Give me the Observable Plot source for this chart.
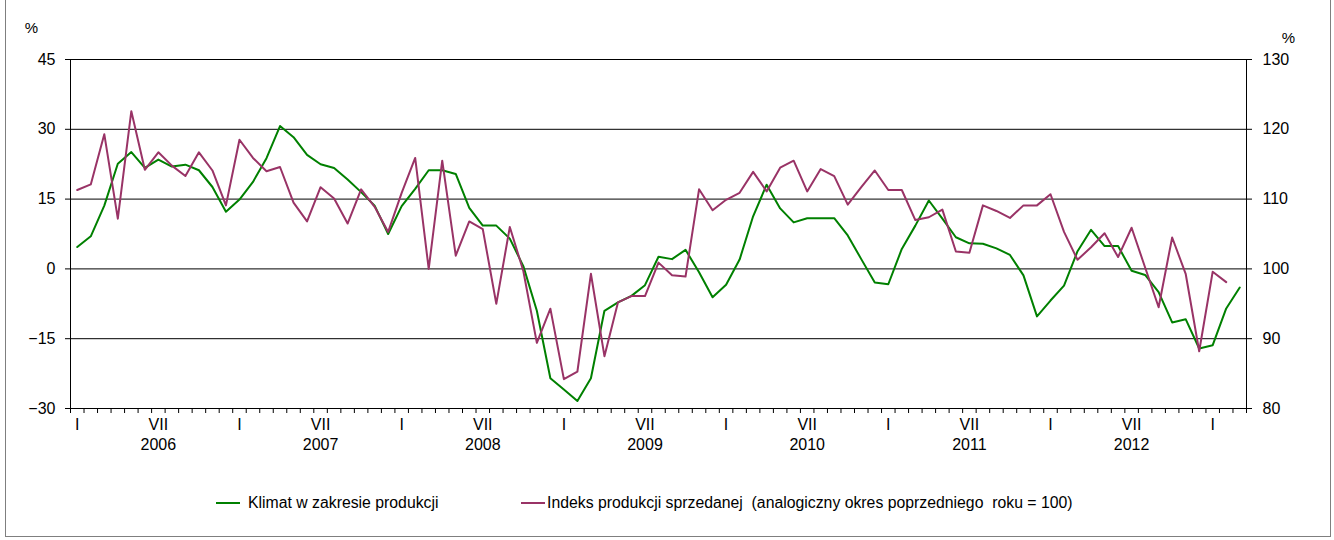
<!DOCTYPE html>
<html><head><meta charset="utf-8">
<script src="https://cdn.jsdelivr.net/npm/d3@7"></script>
<script src="https://cdn.jsdelivr.net/npm/@observablehq/plot@0.6"></script>
<style>
body{margin:0;background:#fff;font-family:"Liberation Sans",Arial,sans-serif;}
#wrap{position:relative;width:1334px;height:540px;overflow:hidden;background:#fff;}
#frame{position:absolute;left:5px;top:-2px;width:1326px;height:539px;border:1px solid #7f7f7f;box-sizing:border-box;pointer-events:none;}
#chart{position:absolute;left:0;top:0;}
#legend{position:absolute;left:0;top:493px;width:1334px;height:20px;font-size:15.8px;color:#000;}
.item{position:absolute;top:0;display:flex;align-items:center;height:20px;white-space:pre;}
.sw{display:inline-block;width:24px;height:2px;margin-right:8px;}
</style></head><body>
<div id="wrap"><div id="chart"></div><div id="legend"></div><div id="frame"></div></div>
<script>
const years = [2006, 2007, 2008, 2009, 2010, 2011, 2012];
const monthLabels = ["I","II","III","IV","V","VI","VII","VIII","IX","X","XI","XII"];
const leftTicks = [-30, -15, 0, 15, 30, 45];
const seriesNames = ["Klimat w zakresie produkcji", "Indeks produkcji sprzedanej  (analogiczny okres poprzedniego  roku = 100)"];
// Klimat (left axis, %), Jan 2006 - Mar 2013
const klimat = [
  4.7, 7.0, 13.6, 22.6, 25.1, 21.7, 23.5, 22.0, 22.4, 21.2, 17.6, 12.3,
  14.9, 18.7, 23.8, 30.7, 28.3, 24.5, 22.5, 21.7, 19.2, 16.5, 13.6, 7.5,
  13.5, 17.2, 21.2, 21.2, 20.4, 13.1, 9.3, 9.3, 6.5, 0.6, -9.0, -23.5,
  -25.9, -28.4, -23.5, -9.0, -7.2, -5.8, -3.5, 2.6, 2.1, 4.1, -0.7, -6.1,
  -3.4, 2.0, 11.3, 18.1, 13.0, 10.0, 10.9, 10.9, 10.9, 7.2, 2.1, -2.9,
  -3.3, 4.3, 9.3, 14.7, 10.8, 6.8, 5.5, 5.4, 4.4, 3.0, -1.4, -10.2,
  -6.8, -3.6, 3.8, 8.4, 4.9, 4.9, -0.4, -1.3, -5.0, -11.5, -10.8, -17.1,
  -16.4, -8.5, -4.0
];
// Indeks (right axis), Jan 2006 - Feb 2013
const indeks = [
  111.3, 112.1, 119.3, 107.2, 122.6, 114.2, 116.7, 114.8, 113.3, 116.7, 114.1, 109.1,
  118.5, 115.9, 114.0, 114.6, 109.5, 106.8, 111.7, 110.1, 106.5, 111.4, 108.9, 105.3,
  110.9, 115.9, 100.0, 115.5, 101.9, 106.8, 105.7, 95.0, 106.0, 99.7, 89.4, 94.3,
  84.2, 85.3, 99.3, 87.5, 95.2, 96.1, 96.1, 100.9, 99.1, 98.9, 111.4, 108.4,
  109.9, 110.9, 113.9, 111.1, 114.5, 115.5, 111.1, 114.3, 113.3, 109.2, 111.7, 114.1,
  111.3, 111.3, 107.0, 107.4, 108.5, 102.5, 102.3, 109.1, 108.3, 107.3, 109.1, 109.1,
  110.7, 105.3, 101.3, 103.1, 105.1, 101.7, 105.9, 100.2, 94.5, 104.5, 99.3, 88.2,
  99.6, 98.1
];
const colors = ["#008000", "#993366"];

const nBands = klimat.length;
const kData = klimat.map((v, i) => ({i: i + 0.5, v}));
const iData = indeks.map((v, i) => ({i: i + 0.5, v}));
const toLeft = (r) => (r - 100) * 1.5;
const toRight = (l) => 100 + l * 2 / 3;
const bandEdges = d3.range(0, nBands + 1);
const monthTicks = d3.range(0, nBands).filter(i => i % 12 === 0 || i % 12 === 6).map(i => i + 0.5);
const yearTicks = years.map((y, k) => k * 12 + 6 + 0.5);

const plot = Plot.plot({
  width: 1334,
  height: 460,
  marginTop: 59,
  marginBottom: 52,
  marginLeft: 70,
  marginRight: 88,
  style: {fontFamily: "'Liberation Sans', Arial, sans-serif", fontSize: "16px", color: "#000", background: "transparent"},
  x: {domain: [0, nBands], axis: null},
  y: {domain: [-30, 45], axis: null},
  marks: [
    Plot.ruleY([-15, 0, 15, 30], {stroke: "#000", strokeWidth: 1}),
    Plot.line(kData, {x: "i", y: "v", stroke: colors[0], strokeWidth: 2}),
    Plot.line(iData, {x: "i", y: d => toLeft(d.v), stroke: colors[1], strokeWidth: 2}),
    Plot.frame({stroke: "#000", strokeWidth: 1}),
    Plot.axisY({anchor: "left", ticks: leftTicks, tickSize: 5, tickPadding: 10, label: null}),
    Plot.axisY({anchor: "right", ticks: leftTicks, tickSize: 5, tickPadding: 11, tickFormat: d => String(toRight(d)), label: null}),
    Plot.axisX({ticks: bandEdges, tickSize: 5, tickFormat: () => "", label: null}),
    Plot.axisX({ticks: monthTicks, tickSize: 0, tickPadding: 10, tickFormat: d => monthLabels[(d - 0.5) % 12], label: null}),
    Plot.axisX({ticks: yearTicks, tickSize: 0, tickPadding: 30, tickFormat: d => String(years[Math.floor(d / 12)]), label: null}),
    Plot.text(["%"], {frameAnchor: "top-left", dx: -39, dy: -31, textAnchor: "middle", lineAnchor: "middle", fontSize: 15}),
    Plot.text(["%"], {frameAnchor: "top-right", dx: 42, dy: -21, textAnchor: "middle", lineAnchor: "middle", fontSize: 15})
  ]
});
document.getElementById("chart").appendChild(plot);

const legend = document.getElementById("legend");
const lefts = [216, 521];
seriesNames.forEach((name, k) => {
  const it = document.createElement("div");
  it.className = "item";
  it.style.left = lefts[k] + "px";
  const sw = document.createElement("span");
  sw.className = "sw";
  sw.style.background = colors[k];
  if (k === 1) sw.style.marginRight = "2px";
  const tx = document.createElement("span");
  tx.textContent = name;
  it.appendChild(sw); it.appendChild(tx);
  legend.appendChild(it);
});
</script>
</body></html>
